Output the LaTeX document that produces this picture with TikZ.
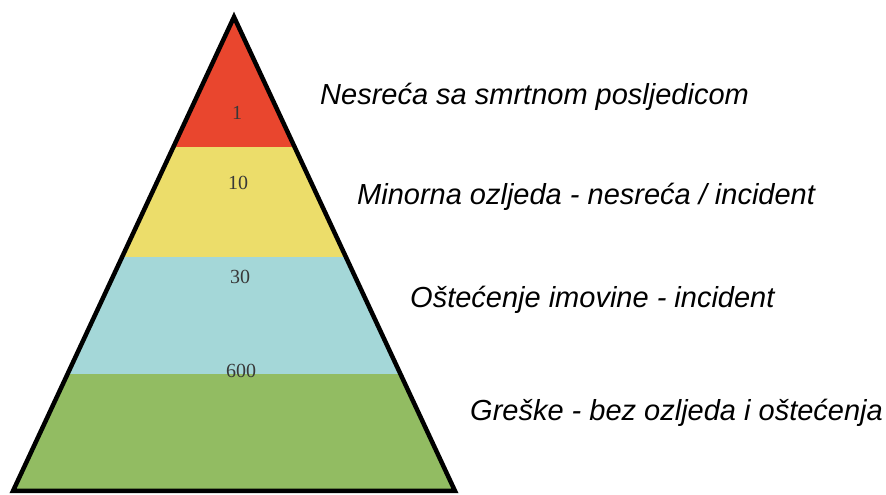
\documentclass[tikz,border=0pt]{standalone}
\usepackage{fontspec}
\setmainfont{Liberation Serif}
\setsansfont{Liberation Sans}
\usetikzlibrary{positioning}
\definecolor{bandred}{RGB}{233,70,46}
\definecolor{bandyellow}{RGB}{236,221,106}
\definecolor{bandcyan}{RGB}{164,215,216}
\definecolor{bandgreen}{RGB}{146,188,98}
\tikzset{
  count/.style={inner sep=0pt, text=black!78, font=\fontsize{20}{24}\selectfont},
  levellabel/.style={anchor=west, inner sep=0pt, font=\sffamily\itshape\fontsize{29}{34}\selectfont}
}

\begin{document}
\begin{tikzpicture}[x=1pt, y=1pt]
\useasboundingbox (0,0) rectangle (886,495);
\coordinate (apex) at (234,478);
\coordinate (baseL) at (13,4);
\coordinate (baseR) at (455,4);
%Bands
\begin{scope}
\clip (apex) -- (baseL) -- (baseR) -- cycle;
\fill [bandred] (0,348) rectangle (886,495);
\fill [bandyellow] (0,238) rectangle (886,348);
\fill [bandcyan] (0,121) rectangle (886,238);
\fill [bandgreen] (0,0) rectangle (886,121);
\end{scope}
\draw [line width=4.5] (apex) -- (baseL) -- (baseR) -- cycle;
%Numbers
\node [count] (n1) at (237,382) {1};
\node [count] (n10) at (238,312) {10};
\node [count] (n30) at (240,218) {30};
\node [count] (n600) at (241,124) {600};
%Text
\node [levellabel] (fatal) at (320,398) {Nesreća sa smrtnom posljedicom};
\node [levellabel] (minor) at (357,298) {Minorna ozljeda - nesreća / incident};
\node [levellabel] (damage) at (410,195) {Oštećenje imovine - incident};
\node [levellabel] (errors) at (470,82) {Greške - bez ozljeda i oštećenja};
\end{tikzpicture}
\end{document}
